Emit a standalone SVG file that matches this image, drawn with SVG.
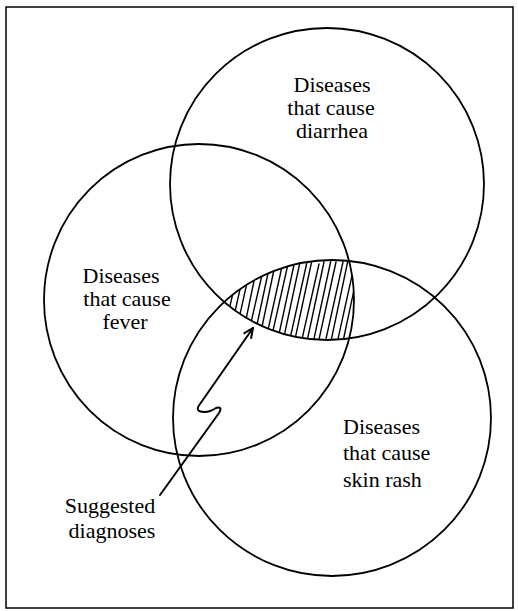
<svg xmlns="http://www.w3.org/2000/svg" width="518" height="611" viewBox="0 0 518 611">
<style>
.frame{fill:none;stroke:#000;stroke-width:1.5}
.set{fill:none;stroke:#000;stroke-width:1.8}
.hatch{stroke:#000;stroke-width:1.4;stroke-linecap:round;fill:none}
.conn{fill:none;stroke:#000;stroke-width:2;stroke-linejoin:round;stroke-linecap:round}
text{font-family:"Liberation Serif","Times New Roman",serif;font-size:22px;fill:#000}
.c{text-anchor:middle}
</style>
<defs>
<clipPath id="cTop"><ellipse cx="327" cy="184" rx="157" ry="156"/></clipPath>
<clipPath id="cFever"><ellipse cx="199" cy="300" rx="155" ry="156"/></clipPath>
<clipPath id="cRash"><ellipse cx="332" cy="418" rx="159" ry="158"/></clipPath>
<marker id="arrow" viewBox="0 0 12 12" refX="11" refY="6" markerWidth="12" markerHeight="12" markerUnits="userSpaceOnUse" orient="auto">
<path d="M1,1.5 L11,6 L1,10.5" fill="none" stroke="#000" stroke-width="2"/>
</marker>
</defs>
<rect class="frame" x="6" y="7" width="507" height="601"/>
<g id="node-diarrhea">
<ellipse class="set" cx="327" cy="184" rx="157" ry="156"/>
<text class="c" x="332" y="92">Diseases</text>
<text class="c" x="331" y="115">that cause</text>
<text class="c" x="332" y="138">diarrhea</text>
</g>
<g id="node-fever">
<ellipse class="set" cx="199" cy="300" rx="155" ry="156"/>
<text class="c" x="121" y="283">Diseases</text>
<text class="c" x="127" y="306">that cause</text>
<text class="c" x="125" y="329">fever</text>
</g>
<g id="node-rash">
<ellipse class="set" cx="332" cy="418" rx="159" ry="158"/>
<text x="343" y="434">Diseases</text>
<text x="343" y="460">that cause</text>
<text x="343" y="487">skin rash</text>
</g>
<g id="node-intersection">
<g clip-path="url(#cTop)"><g clip-path="url(#cFever)"><g clip-path="url(#cRash)">
<path class="hatch" d="M220,350 L240,262 M227,348 L246,262 M233,346 L252,260 M240,348 L258,262 M246,344 L265,262 M252,348 L270,264 M258,346 L276,260 M264,348 L283,262 M270,344 L288,264 M276,348 L295,260 M282,346 L300,262 M288,348 L307,262 M294,344 L312,260 M300,348 L319,264 M306,346 L324,262 M312,348 L331,260 M318,344 L336,262 M324,348 L343,262 M330,346 L348,260 M336,348 L355,262 M342,346 L360,262"/>
</g></g></g>
</g>
<g id="node-suggested">
<text class="c" x="110" y="513">Suggested</text>
<text class="c" x="112" y="538">diagnoses</text>
</g>
<g id="connectors">
<path class="conn" marker-end="url(#arrow)" d="M160,495 L219,413 Q223,406 216,408 Q207,414 199,411 Q196,409 200,404 L253,328"/>
</g>
</svg>
